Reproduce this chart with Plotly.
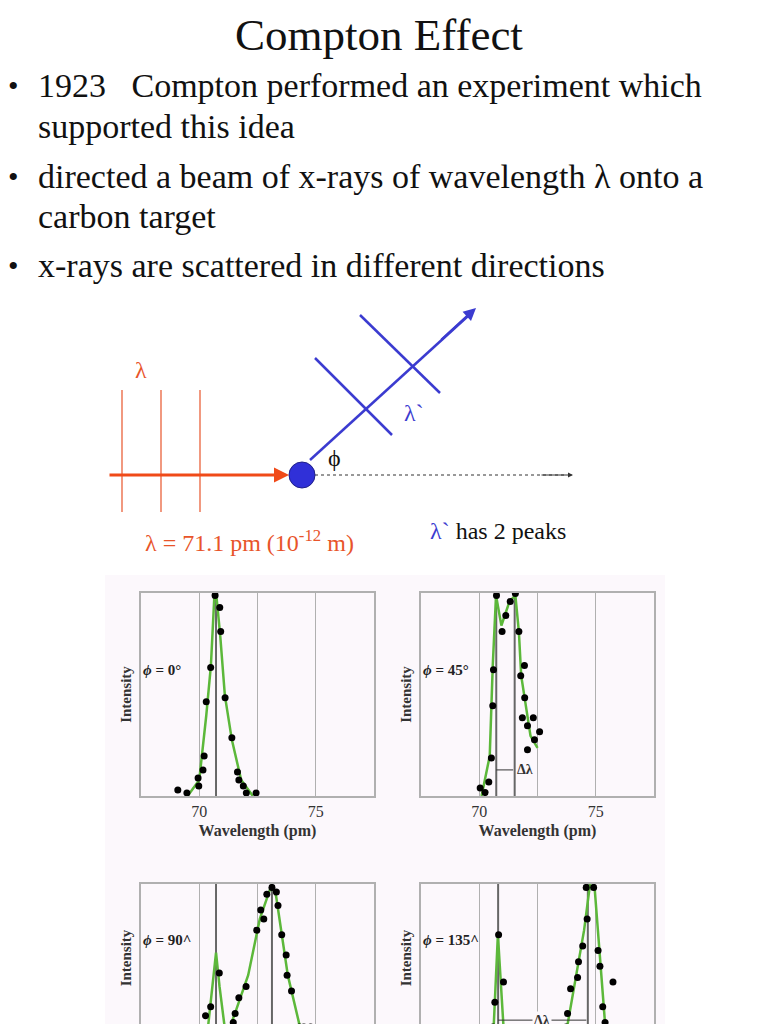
import plotly.graph_objects as go

W, H = 768, 1024
OFF = 8  # page body margin
def px(x): return (x - OFF) / W
def py(y): return 1 - (y - OFF) / H

# ---- data ----
p0_x = [69.08, 69.47, 69.95, 69.98, 70.16, 70.21, 70.30, 70.49, 70.68, 70.88, 70.92, 71.11, 71.40, 71.64, 71.70, 71.89, 72.02, 72.44]
p0_y = [0.03, 0.015, 0.09, 0.05, 0.13, 0.20, 0.47, 0.64, 1.0, 0.94, 0.82, 0.49, 0.29, 0.12, 0.08, 0.05, 0.015, 0.015]
c0_x = [69.5, 70.0, 70.3, 70.5, 70.65, 70.75, 70.9, 71.1, 71.4, 71.8, 72.3]
c0_y = [0.0, 0.08, 0.40, 0.65, 1.0, 0.98, 0.80, 0.50, 0.28, 0.08, 0.0]

p45_x = [70.04, 70.25, 70.41, 70.52, 70.58, 70.61, 70.74, 70.98, 71.14, 71.33, 71.55, 71.70, 71.78, 71.94, 71.95, 71.85, 72.07, 72.32, 72.07, 72.37, 72.59]
p45_y = [0.04, 0.017, 0.07, 0.19, 0.45, 0.63, 1.0, 0.82, 0.90, 0.97, 1.01, 0.82, 0.60, 0.65, 0.49, 0.39, 0.35, 0.39, 0.23, 0.28, 0.32]
c45_x = [70.1, 70.45, 70.58, 70.72, 70.95, 71.3, 71.55, 71.7, 71.8, 72.0, 72.2, 72.5]
c45_y = [0.0, 0.2, 0.65, 1.0, 0.85, 0.97, 1.0, 0.82, 0.6, 0.45, 0.3, 0.24]

p90_x = [70.21, 70.27, 70.49, 70.27, 70.86, 71.15, 71.46, 71.54, 71.70, 72.01, 72.47, 72.64, 72.77, 72.90, 73.12, 73.31, 73.38, 73.54, 73.73, 73.77, 73.96, 74.30, 74.49, 74.78, 74.65]
p90_y = [0.33, 0.42, 0.46, 0.33, 0.61, 0.34, 0.39, 0.43, 0.50, 0.55, 0.80, 0.89, 0.85, 0.96, 0.99, 0.97, 0.91, 0.78, 0.69, 0.60, 0.53, 0.37, 0.37, 0.37, 0.32]
c90_x = [70.2, 70.72, 70.87, 71.15, 71.6, 72.1, 72.6, 73.1, 73.3, 73.8, 74.3, 74.8]
c90_y = [0.2, 0.70, 0.55, 0.32, 0.45, 0.60, 0.85, 1.0, 0.95, 0.60, 0.38, 0.30]

p135_x = [70.83, 71.04, 70.67, 70.59, 73.73, 73.79, 73.92, 74.22, 74.26, 74.44, 74.63, 74.59, 74.91, 75.10, 75.18, 75.74, 75.30, 75.40]
p135_y = [0.78, 0.57, 0.48, 0.37, 0.37, 0.43, 0.54, 0.59, 0.66, 0.73, 0.85, 0.99, 0.99, 0.71, 0.64, 0.57, 0.46, 0.39]
c135_x = [70.5, 70.8, 71.2, 73.4, 74.5, 74.75, 74.95, 75.5]
c135_y = [0.1, 0.78, 0.1, 0.15, 0.8, 1.0, 0.99, 0.25]

angles = ["0°", "45°", "90^", "135^"]
peak_lines = [[70.72], [70.73, 71.52], [70.72, 73.12], [70.81, 74.66]]
tick_vals = [70, 72.5, 75]
tick_text = ["70", "", "75"]

points = [(p0_x, p0_y), (p45_x, p45_y), (p90_x, p90_y), (p135_x, p135_y)]
curves = [(c0_x, c0_y), (c45_x, c45_y), (c90_x, c90_y), (c135_x, c135_y)]

SERIF = "Liberation Serif"
fig = go.Figure()

fig.add_shape(type="rect", xref="paper", yref="paper", x0=px(105), x1=px(665), y0=0, y1=py(575),
              fillcolor="#fcf8fc", line=dict(width=0), layer="below")

xdoms = [(px(141), px(374)), (px(421), px(654))]
ydoms = [(py(796), py(593)), (0, py(884))]
yranges = [[0, 1.012], [1.005 - (1016 - 884) / 200.7, 1.005]]
FRAME = "#b0b0b0"

for i in range(4):
    r, c = divmod(i, 2)
    n = "" if i == 0 else str(i + 1)
    fig.add_trace(go.Scatter(x=curves[i][0], y=curves[i][1], mode="lines",
                             line=dict(color="#5cb83a", width=2.5), xaxis="x" + n, yaxis="y" + n,
                             showlegend=False))
    fig.add_trace(go.Scatter(x=points[i][0], y=points[i][1], mode="markers",
                             marker=dict(color="black", size=7), xaxis="x" + n, yaxis="y" + n,
                             showlegend=False))
    xa = dict(domain=xdoms[c], anchor="y" + n, range=[67.5, 77.5], automargin=False,
              tickvals=tick_vals, ticktext=tick_text, showgrid=True,
              gridcolor=FRAME, gridwidth=1.2, showline=True, linecolor=FRAME, linewidth=1.5,
              zeroline=False, ticks="", tickfont=dict(family=SERIF, size=16, color="#333"))
    if r == 0:
        xa.update(mirror=True, title=dict(text="<b>Wavelength (pm)</b>",
                                          font=dict(family=SERIF, size=16, color="#333"), standoff=6))
    else:
        xa.update(side="top", mirror=False, showticklabels=False)
    fig.update_layout({
        "xaxis" + n: xa,
        "yaxis" + n: dict(domain=ydoms[r], anchor="x" + n, range=yranges[r], automargin=False,
                          showticklabels=False, showgrid=False, zeroline=False,
                          showline=True, mirror=True, linecolor=FRAME, linewidth=1.5,
                          title=dict(text="<b>Intensity</b>", font=dict(family=SERIF, size=15, color="#333"),
                                     standoff=4)),
    })
    for xv in peak_lines[i]:
        fig.add_shape(type="line", xref="x" + n, yref="y" + n + " domain", x0=xv, x1=xv, y0=0, y1=1,
                      line=dict(color="#666", width=2), layer="below")
    fig.add_annotation(xref="x" + n + " domain", yref="y" + n + " domain",
                       x=0.0, y=0.62, xanchor="left",
                       text="<b><i>ϕ</i> = " + angles[i] + "</b>", showarrow=False,
                       font=dict(family=SERIF, size=15, color="#222"))

# delta lambda markers
fig.add_annotation(x=70.73, y=0.13, ax=71.52, ay=0.13, xref="x2", yref="y2", axref="x2", ayref="y2",
                   text="", showarrow=True, arrowhead=0, arrowwidth=1, arrowcolor="#333")
fig.add_annotation(x=71.55, y=0.13, xref="x2", yref="y2", xanchor="left", text="<b>Δλ</b>",
                   showarrow=False, font=dict(family=SERIF, size=14, color="#333"))
fig.add_annotation(x=70.81, y=0.40, ax=74.66, ay=0.40, xref="x4", yref="y4", axref="x4", ayref="y4",
                   text="", showarrow=True, arrowhead=0, arrowwidth=1, arrowcolor="#333")
fig.add_annotation(x=72.7, y=0.40, xref="x4", yref="y4", text="<b>Δλ</b>",
                   showarrow=False, font=dict(family=SERIF, size=14, color="#333"), bgcolor="#fcf8fc")

# diagram
def pline(x0, y0, x1, y1, color, width, dash="solid"):
    fig.add_shape(type="line", xref="paper", yref="paper", x0=px(x0), x1=px(x1), y0=py(y0), y1=py(y1),
                  line=dict(color=color, width=width, dash=dash))

for xv in [122, 161, 200]:
    pline(xv, 390, xv, 512, "#e8542a", 1.2)
pline(315, 475, 565, 475, "#333", 1, "dot")
pline(315, 358, 392, 435, "#3b3bd0", 2.5)
pline(360, 315, 440, 393, "#3b3bd0", 2.5)
pline(310, 460, 468, 316, "#3b3bd0", 2.5)

def arrow(x0, y0, x1, y1, color, width, head=2):
    fig.add_annotation(xref="paper", yref="paper", axref="pixel", ayref="pixel",
                       x=px(x1), y=py(y1), ax=x0 - x1, ay=y0 - y1, text="", showarrow=True,
                       arrowhead=head, arrowsize=1, arrowwidth=width, arrowcolor=color)

arrow(108, 475, 289, 475, "#f04a18", 3)
arrow(440, 341, 476, 308, "#3b3bd0", 2.5)
arrow(540, 475, 573, 475, "#333", 1, head=2)

fig.add_shape(type="circle", xref="paper", yref="paper", x0=px(289), x1=px(315), y0=py(488), y1=py(462),
              fillcolor="#3030d8", line=dict(color="#20208a", width=1))

def text(x, y, s, size, color="#111", anchor="left", yanchor="middle"):
    fig.add_annotation(xref="paper", yref="paper", x=px(x), y=py(y), xanchor=anchor, yanchor=yanchor,
                       text=s, showarrow=False, font=dict(family=SERIF, size=size, color=color))

text(379, 8, "Compton Effect", 45, anchor="center", yanchor="top")
text(6, 85, "•", 30)
text(36, 85, "1923   Compton performed an experiment which", 34)
text(36, 126, "supported this idea", 34)
text(6, 176, "•", 30)
text(36, 176, "directed a beam of x-rays of wavelength λ onto a", 34)
text(36, 216, "carbon target", 34)
text(6, 265, "•", 30)
text(36, 265, "x-rays are scattered in different directions", 34)

text(133, 370, "λ", 24, color="#e8542a")
text(402, 413, "λ`", 24, color="#3b3bd0")
text(326, 458, "ϕ", 24, color="#111")
text(143, 541, "λ = 71.1 pm (10<sup>-12</sup> m)", 24, color="#e8542a")
text(428, 531, "<span style='color:#3b3bd0'>λ`</span> has 2 peaks", 24, color="#111")

fig.update_layout(width=W, height=H, margin=dict(l=0, r=0, t=0, b=0, autoexpand=False),
                  paper_bgcolor="white", plot_bgcolor="rgba(0,0,0,0)")
fig.write_html("out.html")
